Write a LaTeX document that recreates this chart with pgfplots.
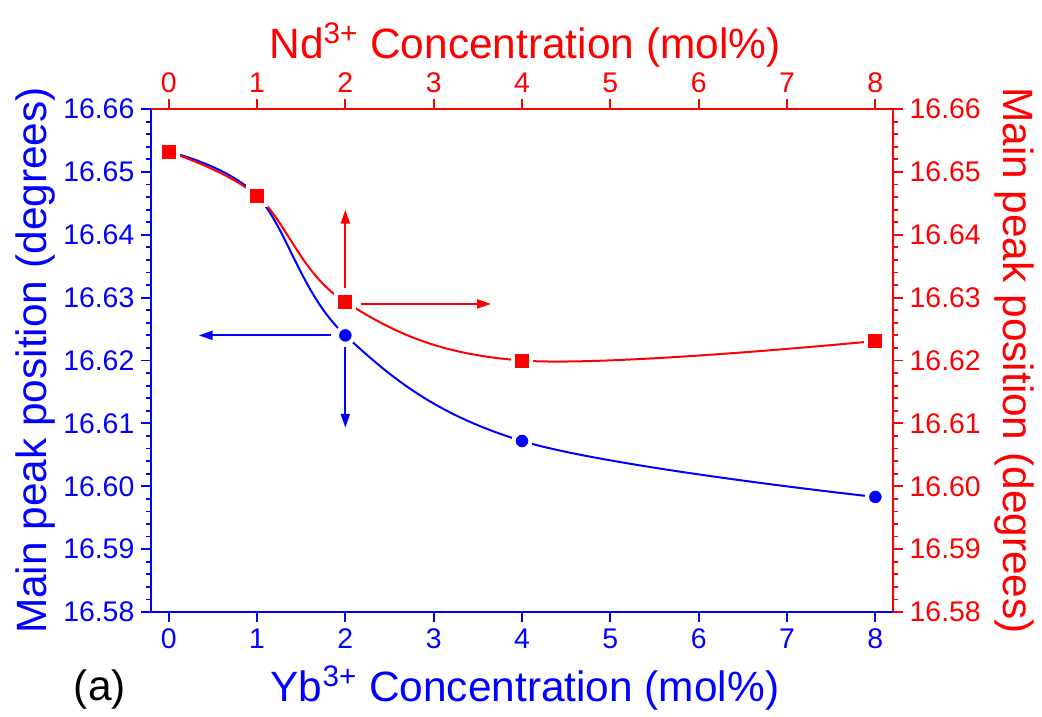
\documentclass[border=0pt]{standalone}
\usepackage{pgfplots}
\pgfplotsset{compat=1.18}
\usetikzlibrary{arrows.meta}
\usepackage{fontspec}
\setmainfont{Liberation Sans}
\definecolor{oblue}{RGB}{0,0,255}
\definecolor{ored}{RGB}{255,0,0}
\begin{document}
\begin{tikzpicture}
\pgfplotsset{
  common/.style={
    width=371pt, height=251.5pt, scale only axis,
    at={(0,0)}, anchor=south west,
    xmin=-0.2, xmax=8.2, ymin=16.58, ymax=16.66,
    xtick={0,1,2,3,4,5,6,7,8},
    ytick={16.58,16.59,16.60,16.61,16.62,16.63,16.64,16.65,16.66},
    minor y tick num=4,
    scaled y ticks=false,
    tick align=outside,
    major tick length=4.8pt, minor tick length=2.5pt,
    /pgf/number format/assume math mode=true,
    yticklabel style={/pgf/number format/fixed, /pgf/number format/precision=2, /pgf/number format/fixed zerofill},
    tick label style={font=\fontsize{14.2}{16}\selectfont},
    label style={font=\fontsize{21.2}{25}\selectfont},
    axis line style={line width=0.9pt},
    every tick/.append style={line width=0.9pt},
    clip=false,
  }
}
% red axis (top, right)
\begin{axis}[common,
  axis x line*=top, axis y line*=right,
  axis line style={ored}, every tick/.append style={ored},
  tick label style={ored}, label style={ored},
  xlabel={Nd\textsuperscript{3+} Concentration (mol\%)},
  ylabel={Main peak position (degrees)},
  xlabel style={at={(axis description cs:0.504,1.127)}, anchor=center},
  ylabel style={at={(axis description cs:1.164,0.5)}, anchor=center, rotate=180},
]
\end{axis}
% blue axis (bottom, left) with all plots
\begin{axis}[common,
  axis x line*=bottom, axis y line*=left,
  axis line style={oblue}, every tick/.append style={oblue},
  tick label style={oblue}, label style={oblue},
  xlabel={Yb\textsuperscript{3+} Concentration (mol\%)},
  ylabel={Main peak position (degrees)},
  xlabel style={at={(axis description cs:0.504,-0.151)}, anchor=center},
  ylabel style={at={(axis description cs:-0.156,0.5)}, anchor=center},
]
% lines
\addplot[oblue, line width=1pt, smooth, tension=0.6] coordinates {
 (0,16.6532) (1,16.6462) (2,16.624) (4,16.6072) (8,16.5983)};
\addplot[ored, line width=1pt, smooth, tension=0.6] coordinates {
 (0,16.6532) (1,16.6462) (2,16.6293) (4,16.620) (8,16.6231)};
% arrows
\addplot[oblue, line width=1pt, -{Triangle[length=7pt,width=4.5pt]}] coordinates {(1.84,16.624) (0.34,16.624)};
\addplot[oblue, line width=1pt, -{Triangle[length=7pt,width=4.5pt]}] coordinates {(2,16.6222) (2,16.6093)};
\addplot[ored, line width=1pt, -{Triangle[length=7pt,width=4.5pt]}] coordinates {(2,16.6315) (2,16.644)};
\addplot[ored, line width=1pt, -{Triangle[length=7pt,width=4.5pt]}] coordinates {(2.18,16.629) (3.65,16.629)};
% markers
\addplot[only marks, mark=*, mark size=4.2pt, mark options={draw=white, line width=2pt, fill=oblue}] coordinates {
 (0,16.6532) (1,16.6462) (2,16.624) (4,16.6072) (8,16.5983)};
\addplot[only marks, mark=square*, mark size=4.5pt, mark options={draw=white, line width=2pt, fill=ored}] coordinates {
 (0,16.6532) (1,16.6462) (2,16.6293) (4,16.620) (8,16.6231)};
\node[font=\fontsize{21.2}{25}\selectfont, black] at (axis description cs:-0.069,-0.155) {(a)};
\end{axis}
\path[use as bounding box] (-75.5pt,-51.5pt) rectangle (445.5pt,306pt);
\end{tikzpicture}
\end{document}
